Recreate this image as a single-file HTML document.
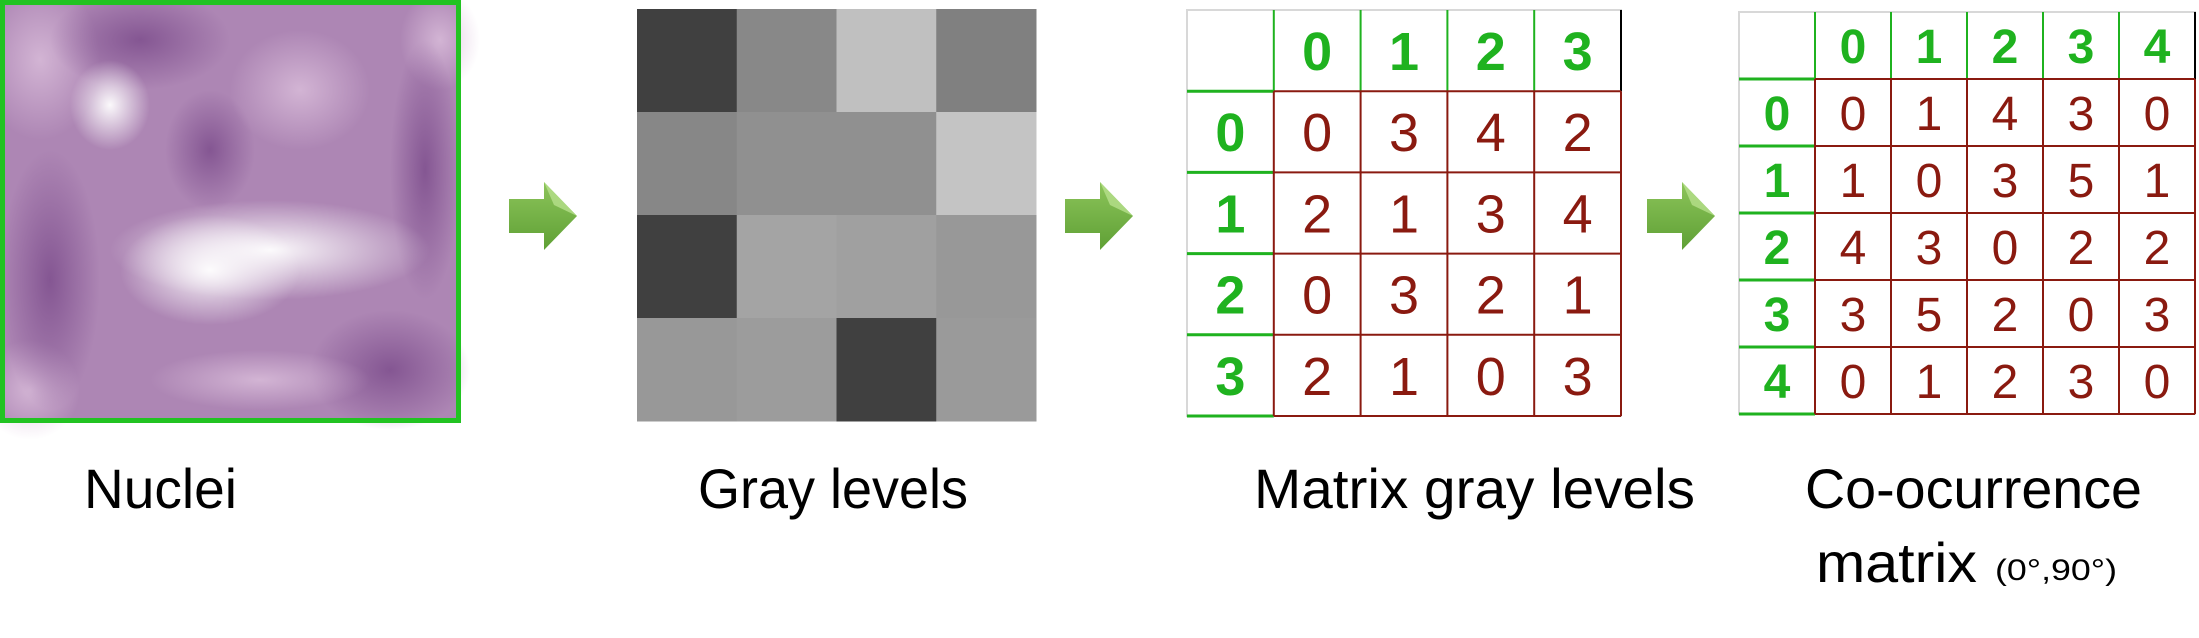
<!DOCTYPE html>
<html><head><meta charset="utf-8">
<style>
html,body{margin:0;padding:0;background:#fff;}
svg{display:block;}
text{font-family:"Liberation Sans",sans-serif;}
.narrow{font-family:"Liberation Sans Narrow","Liberation Sans",sans-serif;}
</style></head>
<body>
<svg id="fig" width="2199" height="638" viewBox="0 0 2199 638">
<defs>
<radialGradient id="g1" cx="0.5" cy="0.5" r="0.5"><stop offset="0" stop-color="#fff" stop-opacity="0.95"/><stop offset="1" stop-color="#fff" stop-opacity="0"/></radialGradient>
<radialGradient id="g2" cx="0.5" cy="0.5" r="0.5"><stop offset="0" stop-color="#7a4a8a" stop-opacity="0.8"/><stop offset="1" stop-color="#7a4a8a" stop-opacity="0"/></radialGradient>
<radialGradient id="g3" cx="0.5" cy="0.5" r="0.5"><stop offset="0" stop-color="#dcc0dc" stop-opacity="0.8"/><stop offset="1" stop-color="#dcc0dc" stop-opacity="0"/></radialGradient>
<linearGradient id="arrowGrad" x1="0" y1="0" x2="0" y2="1"><stop offset="0" stop-color="#8cc45a"/><stop offset="1" stop-color="#5fa035"/></linearGradient>
</defs>
<g>
<rect x="2" y="2" width="457" height="419" fill="#ad86b4"/>
<ellipse cx="40" cy="60" rx="60" ry="80" fill="url(#g3)"/>
<ellipse cx="440" cy="40" rx="40" ry="50" fill="url(#g3)"/>
<ellipse cx="30" cy="390" rx="50" ry="50" fill="url(#g3)"/>
<ellipse cx="140" cy="40" rx="90" ry="50" fill="url(#g2)"/>
<ellipse cx="50" cy="280" rx="50" ry="130" fill="url(#g2)"/>
<ellipse cx="390" cy="370" rx="80" ry="60" fill="url(#g2)"/>
<ellipse cx="425" cy="170" rx="35" ry="130" fill="url(#g2)"/>
<ellipse cx="210" cy="150" rx="45" ry="60" fill="url(#g2)"/>
<ellipse cx="300" cy="90" rx="70" ry="60" fill="url(#g3)"/>
<ellipse cx="110" cy="105" rx="40" ry="45" fill="url(#g1)"/>
<ellipse cx="270" cy="250" rx="160" ry="50" fill="url(#g1)"/>
<ellipse cx="210" cy="270" rx="90" ry="55" fill="url(#g1)"/>
<ellipse cx="260" cy="380" rx="110" ry="30" fill="url(#g3)"/>
<rect x="2.5" y="2.5" width="456" height="418" fill="none" stroke="#22c322" stroke-width="5"/>
</g>
<g id="gray"></g>
<g id="m1"></g>
<g id="m2"></g>
<g id="arrows"></g>
<text x="84" y="508" font-size="56" textLength="153" lengthAdjust="spacingAndGlyphs">Nuclei</text>
<text x="698" y="508" font-size="56" textLength="270" lengthAdjust="spacingAndGlyphs">Gray levels</text>
<text x="1254" y="508" font-size="56" textLength="441" lengthAdjust="spacingAndGlyphs">Matrix gray levels</text>
<text x="1805" y="508" font-size="56" textLength="337" lengthAdjust="spacingAndGlyphs">Co-ocurrence</text>
<text x="1816" y="582" font-size="56" textLength="161" lengthAdjust="spacingAndGlyphs">matrix</text>
<text x="1995" y="580" font-size="30" textLength="122" lengthAdjust="spacingAndGlyphs">(0°,90°)</text>
</svg>
<script>
const grayLevels = [
 [64,136,192,128],
 [135,144,144,196],
 [64,164,160,152],
 [152,156,64,154]
];
const matrixLabels = [0,1,2,3];
const matrixValues = [
 [0,3,4,2],
 [2,1,3,4],
 [0,3,2,1],
 [2,1,0,3]
];
const coLabels = [0,1,2,3,4];
const coValues = [
 [0,1,4,3,0],
 [1,0,3,5,1],
 [4,3,0,2,2],
 [3,5,2,0,3],
 [0,1,2,3,0]
];
const NS="http://www.w3.org/2000/svg";
function mk(tag, attrs, parent){const e=document.createElementNS(NS,tag);for(const k in attrs)e.setAttribute(k,attrs[k]);parent.appendChild(e);return e;}

(function(){
 const g=document.getElementById('gray');
 const x0=637,x1=1036,y0=9,y1=421;
 const n=grayLevels.length, cw=(x1-x0)/grayLevels[0].length, ch=(y1-y0)/n;
 grayLevels.forEach((row,r)=>row.forEach((v,c)=>{
  const e=mk('rect',{x:x0+c*cw,y:y0+r*ch,width:cw+0.5,height:ch+0.5,fill:`rgb(${v},${v},${v})`},g);
  
  
 }));
})();

function drawMatrix(id, labels, values, x0, x1, y0, y1, fs, headSize){
 const g=document.getElementById(id);
 const n=labels.length+1;
 const cw=(x1-x0)/n, ch=(y1-y0)/n;
 const green="#1fb21f", red="#8a1a10";
 mk('rect',{x:x0,y:y0,width:x1-x0,height:y1-y0,fill:"#fff",stroke:"#d8d8d8","stroke-width":2},g);
 for(let i=1;i<n;i++) mk('line',{x1:x0+i*cw,y1:y0,x2:x0+i*cw,y2:y0+ch,stroke:green,"stroke-width":2},g);
 mk('line',{x1:x1,y1:y0,x2:x1,y2:y0+ch,stroke:"#000","stroke-width":2},g);
 for(let i=1;i<=n;i++) mk('line',{x1:x0,y1:y0+i*ch,x2:x0+cw,y2:y0+i*ch,stroke:green,"stroke-width":3},g);
 for(let i=1;i<=n;i++){
  mk('line',{x1:x0+cw,y1:y0+i*ch,x2:x1,y2:y0+i*ch,stroke:red,"stroke-width":2},g);
  mk('line',{x1:x0+i*cw,y1:y0+ch,x2:x0+i*cw,y2:y1,stroke:red,"stroke-width":2},g);
 }
 labels.forEach((l,i)=>{
  const t=mk('text',{class:"narrow",x:x0+(i+1.5)*cw,y:y0+0.5*ch+fs*0.36,"font-size":headSize,"font-weight":"bold",fill:green,"text-anchor":"middle"},g);
  t.textContent=l;
  
  
  const t2=mk('text',{class:"narrow",x:x0+0.5*cw,y:y0+(i+1.5)*ch+fs*0.36,"font-size":headSize,"font-weight":"bold",fill:green,"text-anchor":"middle"},g);
  t2.textContent=l;
  
  
 });
 values.forEach((row,r)=>row.forEach((v,c)=>{
  const t=mk('text',{class:"narrow",x:x0+(c+1.5)*cw,y:y0+(r+1.5)*ch+fs*0.36,"font-size":fs,fill:red,"text-anchor":"middle"},g);
  t.textContent=v;
  
  
 }));
}
drawMatrix('m1', matrixLabels, matrixValues, 1187, 1621, 10, 416, 54, 54);
drawMatrix('m2', coLabels, coValues, 1739, 2195, 12, 414, 48, 48);

(function(){
 const g=document.getElementById('arrows');
 [509,1065,1647].forEach(x=>{
  const p=mk('path',{d:`M${x} 199 H${x+35} V182 L${x+68} 216 L${x+35} 250 V233 H${x} Z`,fill:"url(#arrowGrad)"},g);
  
  
  mk('path',{d:`M${x+35} 182 L${x+68} 216 L${x+45} 205 Z`,fill:"#b6e08c",opacity:0.8},g);
 });
})();
</script>
</body></html>
